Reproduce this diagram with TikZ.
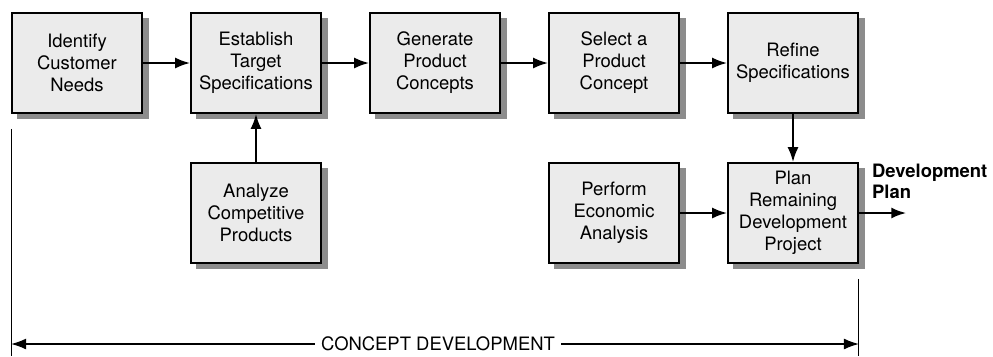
\documentclass[tikz,border=0pt]{standalone}
\usepackage{fontspec}
\setmainfont{TeX Gyre Heros}
\usetikzlibrary{positioning,arrows.meta,backgrounds}

\begin{document}
\begin{tikzpicture}[node distance=3.58cm,on grid,>={Latex[length=3mm,width=2.2mm]}]
      \tikzset{stage/.style={draw,line width=0.9pt,rectangle,fill=black!8,minimum width=2.6cm,minimum height=2cm,
          align=center,font=\fontsize{10.5}{12.5}\selectfont}}
      \tikzset{flow/.style={->,line width=1.3pt}}
      \useasboundingbox (0,0) rectangle (19.86,-7.12);
      
      \node[stage] (ident) at (1.54,-1.26) {Identify\\Customer\\Needs};
      \node[stage] (estab) [right = of ident] {Establish\\Target\\Specifications};
      \node[stage] (gener) [right = of estab] {Generate\\Product\\Concepts};
      \node[stage] (select) [right = of gener] {Select a\\Product\\Concept};
      \node[stage] (refine) [right = of select] {Refine\\Specifications};
      
      \node[stage] (analyze) [below = 3cm of estab] {Analyze\\Competitive\\Products};
      \node[stage] (plan) [below = 3cm of refine] {Plan\\Remaining\\Development\\Project};
      \node[stage] (econ) [left = of plan] {Perform\\Economic\\Analysis};
      
      % shadows behind the boxes
      \begin{pgfonlayer}{background}
        \foreach \n in {ident,estab,gener,select,refine,analyze,plan,econ}
          \fill[black!45] ([xshift=0.12cm,yshift=-0.11cm]\n.south west) rectangle ([xshift=0.12cm,yshift=-0.11cm]\n.north east);
      \end{pgfonlayer}
      
      \node[anchor=north west,inner sep=0pt,align=left,font=\fontsize{10.5}{12.5}\selectfont\bfseries]
        (devplan) at ([xshift=0.26cm,yshift=-0.02cm]plan.north east) {Development\\Plan};
      \coordinate (devout) at ([xshift=0.95cm]plan.east);
      
      \path[flow]
      (ident) edge (estab)
      (estab) edge (gener)
      (gener) edge (select)
      (select) edge (refine)
      (analyze) edge (estab)
      (refine) edge (plan)
      (econ) edge (plan)
      (plan.east) edge (devout)
      ;
      
      % concept development span
      \coordinate (cdL) at ([yshift=-0.3cm]ident.south west);
      \coordinate (cdR) at ([yshift=-0.3cm]plan.south east);
      \node[inner sep=0.12cm,font=\fontsize{10.5}{12.5}\selectfont] (cd) at (8.76,-6.88) {CONCEPT DEVELOPMENT};
      \draw[line width=0.6pt] (cdL) -- (cdL |- 0,-7.12);
      \draw[line width=0.6pt] (cdR) -- (cdR |- 0,-7.12);
      \draw[->,line width=0.6pt] (cd.west) -- (cd.west -| cdL);
      \draw[->,line width=0.6pt] (cd.east) -- (cd.east -| cdR);
    \end{tikzpicture}
\end{document}
